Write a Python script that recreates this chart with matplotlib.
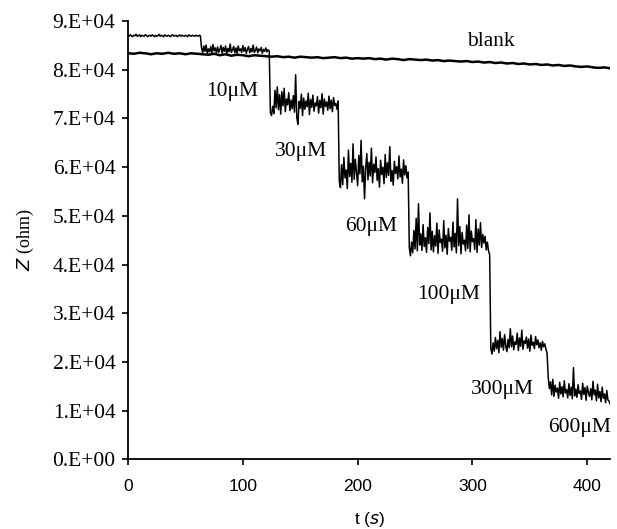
import numpy as np
import matplotlib
matplotlib.use("Agg")
import matplotlib.pyplot as plt

# sample trace, read every 1 s (values in kOhm)
t_sample = np.arange(0, 421, 1)
z_sample = np.array([
    # 0-63 s, before addition
    87.1, 86.9, 87.2, 87.0, 86.8, 87.1, 87.0, 87.3, 86.9, 87.0,
    87.2, 86.8, 87.1, 87.0, 86.9, 87.2, 87.1, 86.8, 87.0, 87.1,
    86.9, 87.2, 87.0, 86.8, 87.1, 86.9, 87.0, 87.3, 86.9, 87.1,
    87.0, 86.8, 87.2, 87.0, 86.9, 87.1, 87.0, 86.8, 87.1, 87.2,
    86.9, 87.0, 87.1, 86.8, 87.0, 87.2, 86.9, 87.1, 87.0, 86.9,
    87.1, 87.0, 86.8, 87.2, 87.0, 86.9, 87.1, 87.0, 86.9, 87.1,
    87.0, 86.9, 87.1, 87.0,
    # 64-123 s
    84.6, 83.5, 84.9, 83.8, 85.1, 83.4, 84.3, 83.7, 84.8, 83.3,
    85.2, 83.9, 84.5, 83.5, 84.7, 83.6, 84.2, 85.0, 83.4, 84.6,
    83.8, 84.9, 83.3, 84.4, 83.7, 85.3, 83.6, 84.1, 84.8, 83.5,
    84.5, 83.4, 84.9, 83.9, 84.3, 83.6, 85.0, 83.8, 84.6, 83.4,
    84.2, 84.8, 83.5, 84.4, 83.7, 85.1, 83.6, 84.0, 84.7, 83.5,
    84.3, 83.9, 84.6, 83.4, 84.2, 83.8, 84.5, 83.7, 84.1, 83.9,
    # 124-183 s (10 uM)
    71.2, 70.6, 72.5, 71.0, 75.8, 72.2, 76.5, 71.8, 74.9, 70.9,
    75.5, 72.6, 76.2, 71.4, 74.0, 72.8, 75.3, 71.6, 73.8, 72.0,
    74.7, 71.3, 79.0, 70.2, 68.8, 73.5, 72.1, 75.0, 70.6, 74.2,
    71.9, 73.6, 72.4, 75.2, 70.8, 73.9, 72.3, 74.8, 71.5, 73.2,
    72.6, 74.5, 71.1, 73.7, 72.2, 75.1, 70.9, 74.0, 72.5, 73.4,
    71.7, 74.6, 72.0, 73.8, 71.4, 74.3, 72.7, 73.1, 71.9, 73.6,
    # 184-244 s (30 uM)
    57.2, 55.8, 60.5, 56.4, 62.0, 57.8, 59.4, 55.6, 63.5, 58.1,
    60.8, 56.9, 64.8, 57.5, 61.6, 59.0, 56.2, 62.4, 58.6, 65.5,
    57.0, 60.2, 53.5, 59.8, 62.8, 57.4, 61.0, 58.2, 63.9, 56.8,
    60.6, 58.9, 62.1, 57.3, 59.7, 55.9, 61.4, 58.5, 60.0, 56.6,
    62.6, 57.9, 60.9, 58.3, 64.2, 57.1, 59.3, 56.3, 61.2, 58.7,
    60.1, 57.6, 62.3, 58.0, 59.6, 56.7, 61.5, 58.4, 60.3, 57.8,
    59.0,
    # 245-315 s (60 uM)
    43.5, 41.8, 44.6, 42.4, 47.0, 43.2, 49.5, 42.8, 52.5, 44.0,
    46.3, 42.9, 48.2, 43.7, 45.5, 42.5, 47.6, 44.3, 50.6, 43.0,
    46.8, 42.6, 45.9, 43.8, 48.5, 42.3, 47.1, 44.5, 45.2, 42.7,
    49.0, 43.4, 46.0, 42.1, 47.4, 44.8, 45.6, 42.9, 48.7, 43.6,
    46.4, 42.4, 53.5, 43.9, 47.8, 42.2, 46.6, 44.2, 45.0, 42.8,
    48.1, 43.3, 50.2, 42.6, 46.9, 44.7, 45.3, 43.1, 49.2, 42.5,
    47.3, 44.0, 48.6, 43.5, 46.2, 44.4, 45.8, 43.0, 44.6, 42.8,
    42.0,
    # 316-365 s (100 uM)
    22.8, 21.6, 23.9, 22.2, 25.0, 22.7, 24.4, 21.9, 26.2, 23.0,
    24.8, 22.4, 25.6, 23.3, 22.1, 24.6, 22.9, 26.8, 23.1, 25.3,
    22.5, 24.1, 23.6, 25.9, 22.3, 24.9, 23.2, 26.5, 22.6, 24.3,
    23.8, 25.1, 22.8, 24.7, 22.2, 25.5, 23.4, 24.0, 22.7, 25.2,
    23.5, 24.5, 22.9, 23.9, 22.4, 24.2, 23.1, 23.7, 22.6, 21.8,
    # 366-420 s (300-600 uM)
    16.8, 14.5, 15.9, 13.2, 16.4, 12.9, 15.2, 13.8, 14.6, 12.5,
    15.8, 13.4, 14.9, 12.8, 16.1, 13.6, 14.3, 12.6, 15.5, 13.1,
    14.8, 12.4, 18.8, 13.0, 14.4, 12.7, 15.3, 13.5, 14.0, 12.3,
    15.6, 13.3, 14.7, 12.1, 15.0, 13.7, 12.9, 14.5, 12.2, 16.0,
    13.2, 14.2, 12.0, 15.4, 12.6, 13.9, 11.8, 14.8, 12.5, 13.4,
    11.6, 14.1, 12.2, 11.9, 11.3,
]) * 1000

# blank trace, read every 5 s (kOhm)
t_blank = np.arange(0, 421, 5)
z_blank = np.array([
    83.4, 83.3, 83.5, 83.4, 83.2, 83.4, 83.3, 83.5, 83.3, 83.4, 83.2, 83.4, 83.3,
    83.2, 83.1, 83.3, 83.0, 83.2, 82.9, 83.1, 83.0, 82.8, 83.0, 82.9, 82.8,
    82.7, 82.8, 82.6, 82.7, 82.5, 82.7, 82.6, 82.5, 82.6, 82.4, 82.5, 82.6, 82.4, 82.5, 82.3, 82.4,
    82.3, 82.4, 82.2, 82.3, 82.1, 82.3, 82.2, 82.0, 82.2, 82.1, 82.0, 82.1, 81.9, 82.0, 81.8, 81.9,
    81.8, 81.7, 81.8, 81.6,
    81.7, 81.5, 81.6, 81.4, 81.5, 81.3, 81.4, 81.2, 81.3, 81.1, 81.2, 81.0, 81.1, 80.9, 81.0, 80.8,
    80.9, 80.7, 80.6, 80.7, 80.5, 80.4, 80.5, 80.3,
]) * 1000

labels = ["blank", "10\u03bcM", "30\u03bcM", "60\u03bcM", "100\u03bcM", "300\u03bcM", "600\u03bcM"]
label_t = [316, 91, 151, 212, 279, 326, 393]
label_z = [85900, 75600, 63300, 47900, 33900, 14400, 6600]

y_ticks = np.arange(0, 90001, 10000)
y_tick_labels = ["0.E+00", "1.E+04", "2.E+04", "3.E+04", "4.E+04",
                 "5.E+04", "6.E+04", "7.E+04", "8.E+04", "9.E+04"]
x_ticks = [0, 100, 200, 300, 400]

fig = plt.figure(figsize=(6.17, 5.29), dpi=100)
ax = fig.add_subplot(111)
fig.subplots_adjust(left=0.2075, right=0.989, bottom=0.132, top=0.960)

ax.plot(t_blank, z_blank, color="black", lw=1.8)
ax.plot(t_sample, z_sample, color="black", lw=1.1)

for s, tx, zy in zip(labels, label_t, label_z):
    ax.text(tx, zy, s, ha="center", va="center", fontsize=15.5, family="Liberation Serif")

ax.set_xlim(0, 420)
ax.set_ylim(0, 90000)
ax.set_yticks(y_ticks)
ax.set_yticklabels(y_tick_labels, family="Liberation Serif", fontsize=15.5)
ax.set_xticks(x_ticks)
ax.set_xticklabels([str(v) for v in x_ticks], family="Liberation Sans", fontsize=12.5)

ax.spines["top"].set_visible(False)
ax.spines["right"].set_visible(False)
ax.spines["left"].set_linewidth(1.3)
ax.spines["bottom"].set_linewidth(1.3)
ax.tick_params(axis="y", direction="out", length=4, width=1.2, pad=5)
ax.tick_params(axis="x", direction="out", length=4, width=1.2, pad=10)

ax.set_ylabel("$Z$ (ohm)", family="Liberation Serif", fontsize=13, labelpad=12)
ax.set_xlabel("t ($s$)", family="Liberation Sans", fontsize=12.5, labelpad=12)

fig.savefig("out.png", dpi=100)
